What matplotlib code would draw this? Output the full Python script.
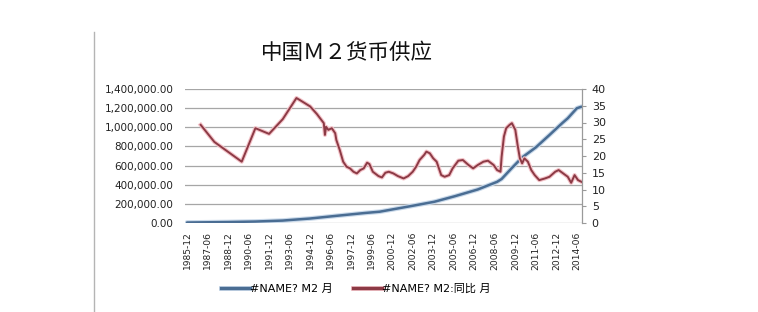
import matplotlib
matplotlib.use('Agg')
import matplotlib.pyplot as plt
import matplotlib.ticker as mtick
import matplotlib.patheffects as pe
from matplotlib.lines import Line2D

plt.rcParams['font.family'] = ['DejaVu Sans', 'Noto Sans CJK SC']

# --- data ---
m2_months = ['1985-12', '1986-12', '1988-12', '1990-12', '1992-12', '1993-06',
             '1994-12', '1996-12', '1998-12', '2000-01', '2002-06', '2004-01',
             '2005-07', '2007-03', '2008-08', '2008-12', '2009-09', '2010-06',
             '2011-06', '2012-06', '2013-05', '2013-10', '2014-06', '2014-10']
m2_values = [5200, 6700, 10100, 15300, 25400, 31000,
             46900, 76100, 104500, 118000, 180000, 222000,
             280000, 350000, 430000, 460000, 575000, 685000,
             790000, 920000, 1042000, 1094000, 1199000, 1215000]

yoy_months = ['1986-12', '1987-12', '1989-12', '1990-12', '1991-12', '1992-12',
              '1993-12', '1994-03', '1994-12', '1995-06', '1995-12', '1996-01',
              '1996-02', '1996-04', '1996-07', '1996-10', '1996-11', '1997-02',
              '1997-05', '1997-08', '1997-11', '1998-02', '1998-05', '1998-08',
              '1998-11', '1999-02', '1999-04', '1999-07', '1999-12', '2000-03',
              '2000-06', '2000-09', '2001-01', '2001-05', '2001-10', '2002-02',
              '2002-06', '2002-09', '2002-12', '2003-04', '2003-06', '2003-09',
              '2003-12', '2004-03', '2004-07', '2004-10', '2005-02', '2005-05',
              '2005-10', '2006-02', '2006-07', '2006-11', '2007-03', '2007-08',
              '2007-12', '2008-05', '2008-08', '2008-11', '2008-12', '2009-02',
              '2009-04', '2009-07', '2009-09', '2009-12', '2010-02', '2010-04',
              '2010-06', '2010-08', '2010-11', '2011-02', '2011-05', '2011-09',
              '2012-02', '2012-06', '2012-11', '2013-02', '2013-06', '2013-10',
              '2014-01', '2014-04', '2014-07', '2014-10']
yoy_values = [29.3, 24.2, 18.3, 28.3, 26.6, 31.0,
              37.3, 36.7, 34.8, 32.5, 29.8, 26.3,
              28.7, 27.8, 28.3, 26.8, 24.8, 21.8,
              18.3, 16.8, 16.3, 15.3, 14.8, 15.8,
              16.3, 18.0, 17.6, 15.3, 14.0, 13.6,
              15.0, 15.3, 14.8, 14.0, 13.3, 14.0,
              15.3, 16.8, 18.8, 20.3, 21.3, 20.8,
              19.3, 18.3, 14.3, 13.8, 14.3, 16.3,
              18.6, 18.8, 17.3, 16.3, 17.3, 18.3,
              18.6, 17.3, 15.8, 15.3, 19.8, 25.8,
              28.3, 29.3, 29.8, 27.8, 23.3, 19.3,
              17.8, 19.3, 18.3, 15.8, 14.3, 12.8,
              13.3, 13.8, 15.3, 15.8, 14.8, 13.8,
              12.0, 14.3, 12.8, 12.3]

tick_labels = ['1985-12', '1987-06', '1988-12', '1990-06', '1991-12', '1993-06',
               '1994-12', '1996-06', '1997-12', '1999-06', '2000-12', '2002-06',
               '2003-12', '2005-06', '2006-12', '2008-06', '2009-12', '2011-06',
               '2012-12', '2014-06']

title = '中国Ｍ２货币供应'
label_m2 = '#NAME? M2 月'
label_yoy = '#NAME? M2:同比 月'


def month_index(s):
    # months counted from 1985-12 (category axis style)
    y, m = s.split('-')
    return (int(y) - 1985) * 12 + (int(m) - 12)


x_m2 = [month_index(s) for s in m2_months]
x_yoy = [month_index(s) for s in yoy_months]
x_ticks = [month_index(s) for s in tick_labels]

blue = '#4a6d93'
red = '#8c3a45'

fig = plt.figure(figsize=(7.58, 3.12), dpi=100)
ax = fig.add_axes([185 / 758, 1 - 223 / 312, (582 - 185) / 758, (223 - 89) / 312])
ax2 = ax.twinx()

ax.plot(x_m2, m2_values, color=blue, lw=1.8, solid_capstyle='round',
        path_effects=[pe.Stroke(linewidth=3.4, foreground='#c9d9ea'), pe.Normal()])
ax2.plot(x_yoy, yoy_values, color=red, lw=1.4, solid_joinstyle='round',
         path_effects=[pe.Stroke(linewidth=3.0, foreground='#f3c2c8'), pe.Normal()])

ax.set_xlim(-1.75, 346.5)
ax.set_ylim(0, 1400000)
ax2.set_ylim(0, 40)

ax.yaxis.set_major_locator(mtick.MultipleLocator(200000))
ax.yaxis.set_major_formatter(mtick.StrMethodFormatter('{x:,.2f}'))
ax2.yaxis.set_major_locator(mtick.MultipleLocator(5))

ax.set_xticks(x_ticks)
ax.set_xticklabels(tick_labels, rotation=90, fontsize=6.6, color='#222222')
ax.tick_params(axis='x', length=0, pad=6)
ax.tick_params(axis='y', length=0, pad=8.5, labelsize=7.5, labelcolor='#222222')
ax2.tick_params(axis='y', length=3, width=0.8, color='#9a9a9a', pad=4,
                labelsize=8, labelcolor='#222222')

ax.grid(True, axis='y', color='#a6a6a6', lw=0.9)
ax.set_axisbelow(True)
for s in ['top', 'left', 'bottom', 'right']:
    ax.spines[s].set_visible(False)
for s in ['top', 'left', 'bottom']:
    ax2.spines[s].set_visible(False)
ax2.spines['right'].set_color('#9a9a9a')
ax2.spines['right'].set_linewidth(0.9)

fig.text(346.5 / 758, 1 - 53 / 312, title, ha='center', va='center',
         fontsize=15.5, family=['Noto Sans CJK SC'], color='#111111')

handles = [Line2D([], [], color=blue, lw=2.4,
                  path_effects=[pe.Stroke(linewidth=3.5, foreground='#c9d9ea'), pe.Normal()]),
           Line2D([], [], color=red, lw=2.4,
                  path_effects=[pe.Stroke(linewidth=3.5, foreground='#f3c2c8'), pe.Normal()])]
fig.legend(handles, [label_m2, label_yoy], loc='center', ncol=2, frameon=False,
           bbox_to_anchor=(356 / 758, 1 - 289 / 312), fontsize=8,
           handlelength=2.6, handletextpad=0.0, columnspacing=1.8)

# left border of the chart frame
fig.add_artist(Line2D([94 / 758, 94 / 758], [0, 1 - 32 / 312],
                      transform=fig.transFigure, color='#b4b4b4', lw=1))

fig.savefig('out.png', dpi=100)
